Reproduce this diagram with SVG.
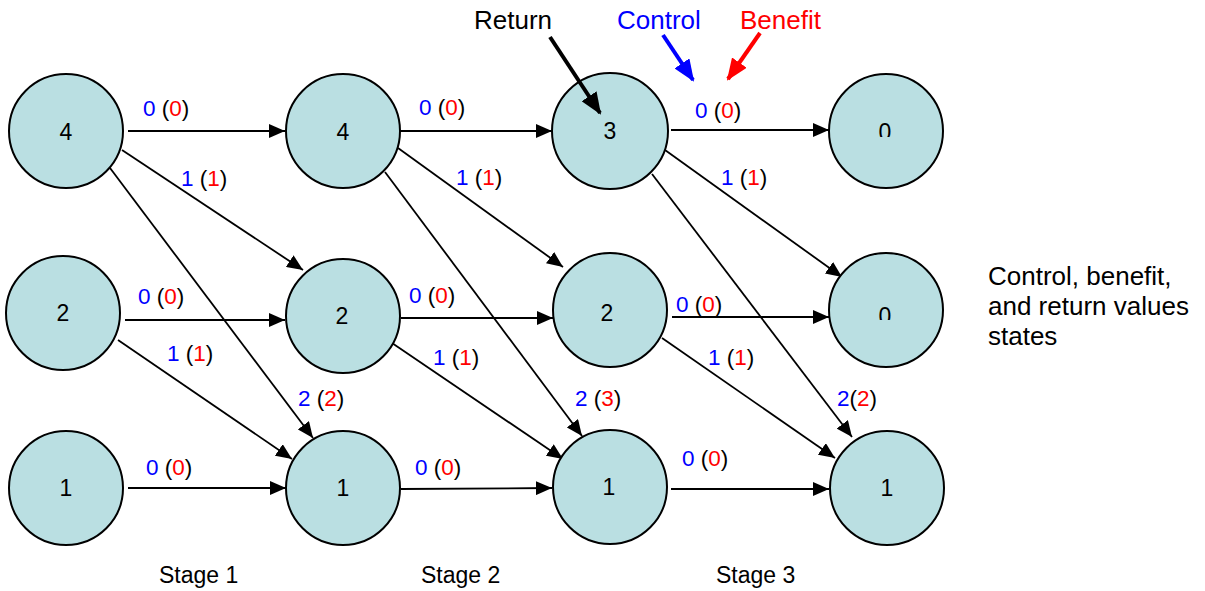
<svg xmlns="http://www.w3.org/2000/svg" width="1205" height="591" viewBox="0 0 1205 591">
<style>
text{font-family:"Liberation Sans",Arial,sans-serif;fill:#000}
.n circle{fill:#badfe2;stroke:#000;stroke-width:2}
.nl{font-size:23px;text-anchor:middle}
.e line{stroke:#000;stroke-width:1.8;marker-end:url(#ah)}
.el{font-size:22.5px}
.st{font-size:23px}
.b{fill:#0000ff}
.r{fill:#ff0000}
.big{font-size:26px}
.an{stroke-width:4;marker-end:url(#bh)}
</style>
<defs>
<marker id="ah" markerUnits="userSpaceOnUse" markerWidth="16" markerHeight="14" refX="16" refY="7" orient="auto"><path d="M0,0 L16,7 L0,14 z" fill="#000"/></marker>
<marker id="bh" markerUnits="userSpaceOnUse" markerWidth="22" markerHeight="18" refX="20" refY="9" orient="auto"><path d="M0,0 L22,9 L0,18 z" fill="context-stroke"/></marker>
<clipPath id="c1"><rect x="860" y="110" width="50" height="27"/></clipPath>
<clipPath id="c2"><rect x="860" y="294" width="50" height="26"/></clipPath>
</defs>

<g id="connectors" class="e">
<line x1="128" y1="131" x2="285" y2="131"/>
<line x1="122" y1="150" x2="303" y2="270"/>
<line x1="110" y1="168" x2="313" y2="438"/>
<line x1="125" y1="320" x2="285" y2="320"/>
<line x1="118" y1="340" x2="292" y2="459"/>
<line x1="128" y1="488" x2="286" y2="488"/>
<line x1="400" y1="131" x2="552" y2="131"/>
<line x1="398" y1="148" x2="563" y2="267"/>
<line x1="385" y1="172" x2="582" y2="436"/>
<line x1="401" y1="318" x2="553" y2="318"/>
<line x1="392" y1="343" x2="563" y2="459"/>
<line x1="401" y1="489" x2="552" y2="488"/>
<line x1="671" y1="130" x2="829" y2="130"/>
<line x1="665" y1="150" x2="842" y2="277"/>
<line x1="652" y1="174" x2="852" y2="437"/>
<line x1="672" y1="317" x2="829" y2="317"/>
<line x1="662" y1="338" x2="835" y2="458"/>
<line x1="671" y1="489" x2="829" y2="489"/>
</g>

<g id="n1_4" class="n"><circle cx="66" cy="131" r="57"/><text class="nl" x="66" y="140">4</text></g>
<g id="n1_2" class="n"><circle cx="63" cy="313" r="57"/><text class="nl" x="63" y="321">2</text></g>
<g id="n1_1" class="n"><circle cx="66" cy="488" r="57"/><text class="nl" x="66" y="496">1</text></g>
<g id="n2_4" class="n"><circle cx="343" cy="131" r="57"/><text class="nl" x="343" y="140">4</text></g>
<g id="n2_2" class="n"><circle cx="343" cy="316" r="57"/><text class="nl" x="342" y="324">2</text></g>
<g id="n2_1" class="n"><circle cx="343" cy="488" r="57"/><text class="nl" x="343" y="496">1</text></g>
<g id="n3_3" class="n"><circle cx="610" cy="131" r="58"/><text class="nl" x="610" y="139">3</text></g>
<g id="n3_2" class="n"><circle cx="610" cy="310" r="57"/><text class="nl" x="607" y="321">2</text></g>
<g id="n3_1" class="n"><circle cx="610" cy="487" r="57"/><text class="nl" x="609" y="495">1</text></g>
<g id="n4_0a" class="n"><circle cx="886" cy="131" r="57"/><text class="nl" x="885" y="140" clip-path="url(#c1)">0</text></g>
<g id="n4_0b" class="n"><circle cx="886" cy="310" r="57"/><text class="nl" x="885" y="324" clip-path="url(#c2)">0</text></g>
<g id="n4_1" class="n"><circle cx="887" cy="488" r="57"/><text class="nl" x="887" y="496">1</text></g>

<g id="edge-labels" class="el">
<text x="143" y="116"><tspan class="b">0</tspan> (<tspan class="r">0</tspan>)</text>
<text x="181" y="186"><tspan class="b">1</tspan> (<tspan class="r">1</tspan>)</text>
<text x="298" y="406"><tspan class="b">2</tspan> (<tspan class="r">2</tspan>)</text>
<text x="138" y="304"><tspan class="b">0</tspan> (<tspan class="r">0</tspan>)</text>
<text x="167" y="361"><tspan class="b">1</tspan> (<tspan class="r">1</tspan>)</text>
<text x="146" y="475"><tspan class="b">0</tspan> (<tspan class="r">0</tspan>)</text>
<text x="419" y="115"><tspan class="b">0</tspan> (<tspan class="r">0</tspan>)</text>
<text x="456" y="185"><tspan class="b">1</tspan> (<tspan class="r">1</tspan>)</text>
<text x="575" y="406"><tspan class="b">2</tspan> (<tspan class="r">3</tspan>)</text>
<text x="409" y="303"><tspan class="b">0</tspan> (<tspan class="r">0</tspan>)</text>
<text x="433" y="365"><tspan class="b">1</tspan> (<tspan class="r">1</tspan>)</text>
<text x="415" y="475"><tspan class="b">0</tspan> (<tspan class="r">0</tspan>)</text>
<text x="695" y="118"><tspan class="b">0</tspan> (<tspan class="r">0</tspan>)</text>
<text x="721" y="185"><tspan class="b">1</tspan> (<tspan class="r">1</tspan>)</text>
<text x="837" y="406"><tspan class="b">2</tspan>(<tspan class="r">2</tspan>)</text>
<text x="676" y="312"><tspan class="b">0</tspan> (<tspan class="r">0</tspan>)</text>
<text x="708" y="365"><tspan class="b">1</tspan> (<tspan class="r">1</tspan>)</text>
<text x="682" y="466"><tspan class="b">0</tspan> (<tspan class="r">0</tspan>)</text>
</g>

<g id="stages" class="st">
<text x="159" y="583">Stage 1</text>
<text x="421" y="583">Stage 2</text>
<text x="716" y="583">Stage 3</text>
</g>

<g id="annotations">
<text class="big" x="474" y="29">Return</text>
<text class="big b" x="617" y="29">Control</text>
<text class="big r" x="740" y="29">Benefit</text>
<line class="an" x1="550" y1="37" x2="600" y2="113" stroke="#000"/>
<line class="an" x1="663" y1="35" x2="693" y2="80" stroke="#0000ff"/>
<line class="an" x1="760" y1="33" x2="728" y2="79" stroke="#ff0000"/>
</g>

<g id="legend" class="big">
<text x="988" y="285">Control, benefit,</text>
<text x="988" y="315">and return values</text>
<text x="988" y="345">states</text>
</g>
</svg>
